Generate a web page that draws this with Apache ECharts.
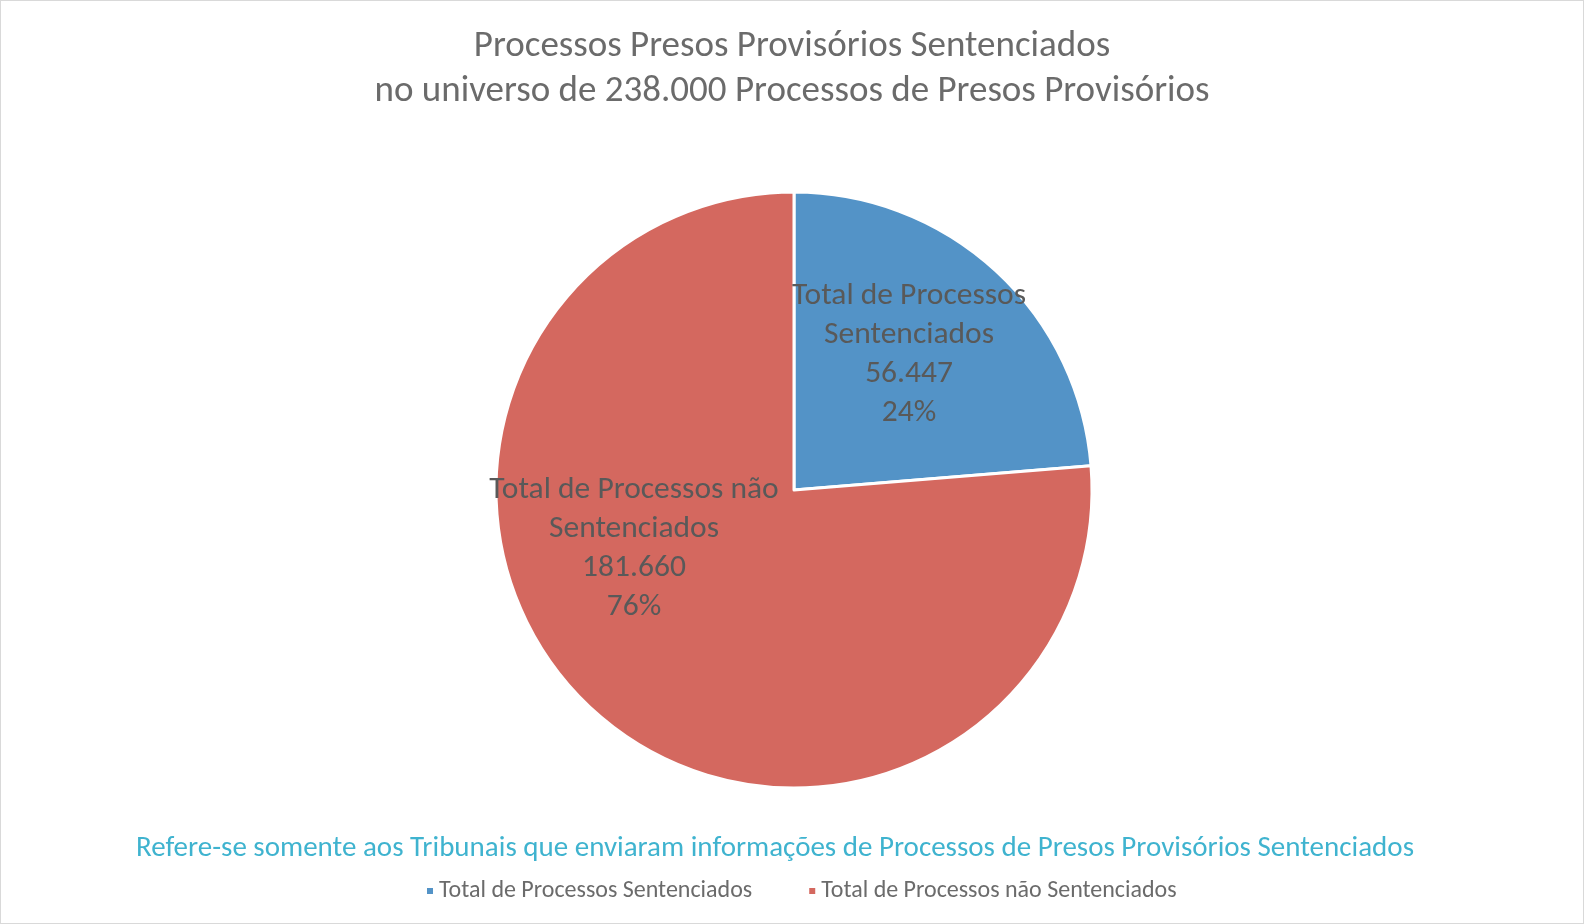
<!DOCTYPE html>
<html>
<head>
    <meta charset="UTF-8">
    <title>Processos Presos Provisórios</title>
    <script src="https://cdn.jsdelivr.net/npm/echarts@6/dist/echarts.min.js"></script>
    <style>
        html, body { margin: 0; padding: 0; background: #fff; }
        #main { width: 1584px; height: 924px; box-sizing: border-box; border: 1px solid #d9d9d9; }
    </style>
</head>
<body>
<div id="main"></div>
<script type="text/javascript">
    // dados do gráfico
    var categorias = ['Total de Processos Sentenciados', 'Total de Processos não Sentenciados'];
    var rotulos = ['Total de Processos\nSentenciados', 'Total de Processos não\nSentenciados'];
    var valores = [56447, 181660];
    var cores = ['#5393C7', '#D4685F'];
    var deslocamentos = [[12, -24], [-57, -53]];

    var fonte = 'Carlito, Lato, sans-serif';

    function formatar(n) {
        return String(n).replace(/\B(?=(\d{3})+(?!\d))/g, '.');
    }

    var dados = [];
    for (var i = 0; i < categorias.length; i++) {
        dados.push({
            name: categorias[i],
            value: valores[i],
            itemStyle: {color: cores[i]},
            label: {offset: deslocamentos[i]},
            rotulo: rotulos[i]
        });
    }

    var myChart = echarts.init(document.getElementById('main'));
    myChart.setOption({
        animation: false,
        textStyle: {fontFamily: fonte},
        title: [{
            text: 'Processos Presos Provisórios Sentenciados\nno universo de 238.000 Processos de Presos Provisórios',
            left: 'center',
            top: 18,
            textStyle: {fontSize: 37, fontWeight: 'normal', color: '#6b6b6b', lineHeight: 45, fontFamily: fonte}
        }, {
            text: 'Refere-se somente aos Tribunais que enviaram informações de Processos de Presos Provisórios Sentenciados',
            left: 769,
            textAlign: 'center',
            top: 828,
            textStyle: {fontSize: 29, fontWeight: 'normal', color: '#3FB3CF', lineHeight: 30, fontFamily: fonte}
        }],
        legend: {
            data: categorias,
            top: 873,
            left: 419,
            icon: 'rect',
            itemWidth: 8,
            itemHeight: 8,
            itemGap: 55,
            textStyle: {fontSize: 24, color: '#6b6b6b', fontFamily: fonte}
        },
        series: [{
            type: 'pie',
            center: [793, 489],
            radius: [0, 298],
            startAngle: 90,
            clockwise: true,
            itemStyle: {borderColor: '#fff', borderWidth: 3},
            label: {
                show: true,
                position: 'inside',
                fontSize: 31.5,
                lineHeight: 39,
                color: '#595959',
                fontFamily: fonte,
                formatter: function (p) {
                    return p.data.rotulo + '\n' + formatar(p.value) + '\n' + Math.round(p.percent) + '%';
                }
            },
            labelLine: {show: false},
            emphasis: {disabled: true},
            data: dados
        }]
    });
</script>
</body>
</html>
